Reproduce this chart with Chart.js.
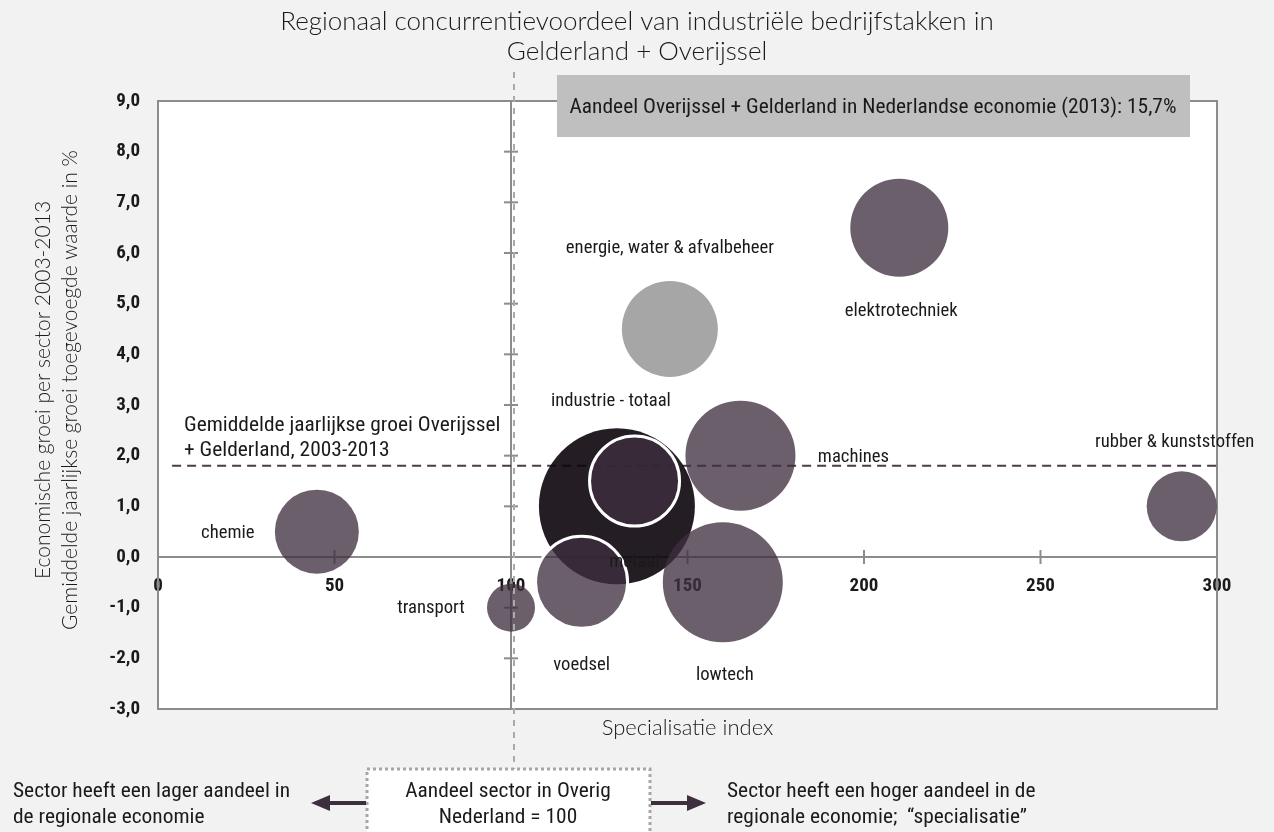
<!DOCTYPE html>
<html lang="nl">
<head>
<meta charset="utf-8">
<title>Regionaal concurrentievoordeel</title>
<script src="https://cdn.jsdelivr.net/npm/chart.js@4.4.1/dist/chart.umd.min.js"></script>
<style>
  html, body { margin: 0; padding: 0; background: #f2f2f2; }
  #wrap { width: 1274px; height: 832px; position: relative; }
</style>
</head>
<body>
<div id="wrap"><canvas id="chart" width="1274" height="832"></canvas></div>
<script>
// ---- data ----
const sectors    = ['industrie - totaal', 'metaal', 'voedsel', 'lowtech', 'machines', 'transport',
                    'chemie', 'energie, water & afvalbeheer', 'elektrotechniek', 'rubber & kunststoffen'];
const specIndex  = [130, 135, 120, 160, 165, 100, 45, 145, 210, 290];   // x: specialisatie index
const growth     = [1.0, 1.5, -0.5, -0.5, 2.0, -1.0, 0.5, 4.5, 6.5, 1.0]; // y: groei in %
const bubbleSize = [78, 45, 46, 60, 55, 24, 42, 48, 49, 35];             // bubble radius
const avgGrowth  = 1.8;          // gemiddelde jaarlijkse groei regio
const avgFrom    = 4;            // dashed average line starts here (x)
const xMin = 0, xMax = 300, xStep = 50;
const yMin = -3, yMax = 9, yStep = 1;
const baseIndex  = 100;          // Overig Nederland = 100

// label placement around each bubble (px offset from bubble centre)
const labelOffset = [[-6, -105], [0, 81], [0, 83], [2, 93], [113, 2], [-80, 1],
                     [-89, 2], [0, -81], [2, 84], [-7, -64]];

// ---- styling ----
const COND   = '"Roboto Condensed", "DejaVu Sans Condensed", Roboto, sans-serif';
const LIGHT  = 'Lato, "Open Sans", sans-serif';
const INK    = '#1a1a1a';
const AXIS   = '#8c8c8c';
const fillFor = name => name === 'industrie - totaal' ? 'rgba(12,4,12,0.9)'
                      : name.startsWith('energie') ? '#a6a6a6'
                      : 'rgba(62,47,62,0.77)';
const ringed = ['metaal', 'voedsel'];

const fmt = v => v.toFixed(1).replace('.', ',');

// horizontally scaled text, to follow the condensed face of the reference
function squeeze(ctx, text, x, y, sx) {
  ctx.save();
  ctx.translate(x, y);
  ctx.scale(sx, 1);
  ctx.fillText(text, 0, 0);
  ctx.restore();
}
// factor so that a sample string gets its width in the reference
function fitFactor(ctx, font, sample, width) {
  ctx.save(); ctx.font = font;
  const f = width / ctx.measureText(sample).width;
  ctx.restore();
  return Math.max(0.8, Math.min(1.15, f));
}

/** ------------------------
 *  Decorations plugin
 ------------------------ */
const decor = {
  id: 'decor',
  beforeDraw(chart) {
    const {ctx, chartArea: a} = chart;
    ctx.save();
    ctx.fillStyle = '#f2f2f2';
    ctx.fillRect(0, 0, chart.width, chart.height);
    ctx.fillStyle = '#ffffff';
    ctx.fillRect(a.left, a.top, a.right - a.left, a.bottom - a.top);
    ctx.restore();
  },
  beforeDatasetsDraw(chart) {
    const {ctx, chartArea: a, scales: {x, y}} = chart;
    ctx.save();
    ctx.strokeStyle = AXIS;
    ctx.lineWidth = 2;
    // vertical axis at index 100 with crossing ticks
    const vx = x.getPixelForValue(baseIndex);
    ctx.beginPath(); ctx.moveTo(vx, a.top); ctx.lineTo(vx, a.bottom); ctx.stroke();
    y.ticks.forEach(t => {
      if (t.value === yMin || t.value === yMax || t.value === 0) return;
      const py = y.getPixelForValue(t.value);
      ctx.beginPath(); ctx.moveTo(vx - 7, py); ctx.lineTo(vx + 7, py); ctx.stroke();
    });
    // crossing ticks on horizontal axis
    const y0 = y.getPixelForValue(0);
    x.ticks.forEach(t => {
      if (t.value === xMin || t.value === baseIndex) return;
      const px = x.getPixelForValue(t.value);
      ctx.beginPath(); ctx.moveTo(px, y0 - 7); ctx.lineTo(px, y0 + 7); ctx.stroke();
    });
    // plot frame
    ctx.strokeRect(a.left, a.top, a.right - a.left, a.bottom - a.top);
    ctx.restore();
  },
  afterDatasetsDraw(chart) {
    const {ctx, chartArea: a, scales: {x, y}} = chart;
    ctx.save();
    ctx.fillStyle = INK;
    ctx.textAlign = 'center';
    ctx.textBaseline = 'middle';

    // bubble labels
    const labelFont = '19px ' + COND;
    const kLabel = fitFactor(ctx, labelFont, 'energie, water & afvalbeheer', 208);
    ctx.font = labelFont;
    sectors.forEach((s, i) => {
      const px = x.getPixelForValue(specIndex[i]) + labelOffset[i][0];
      const py = y.getPixelForValue(growth[i]) + labelOffset[i][1];
      squeeze(ctx, s, px, py, kLabel);
    });

    const textFont = '20px ' + COND;
    const kText = fitFactor(ctx, textFont, 'Sector heeft een lager aandeel in', 277);
    ctx.font = textFont;

    // average growth label
    ctx.textAlign = 'left';
    const ay = y.getPixelForValue(avgGrowth);
    squeeze(ctx, 'Gemiddelde jaarlijkse groei Overijssel', a.left + 26, ay - 40, kText);
    squeeze(ctx, '+ Gelderland, 2003-2013', a.left + 26, ay - 15, kText);

    // light dashed reference line at index 100
    const vx = x.getPixelForValue(baseIndex) + 3;
    ctx.strokeStyle = '#aaaaaa';
    ctx.lineWidth = 2;
    ctx.setLineDash([6, 6]);
    ctx.beginPath(); ctx.moveTo(vx, 72); ctx.lineTo(vx, 769); ctx.stroke();
    ctx.setLineDash([]);

    // share box
    ctx.fillStyle = '#bfbfbf';
    ctx.fillRect(557, 75, 633, 62);
    ctx.fillStyle = INK;
    ctx.textAlign = 'center';
    squeeze(ctx, 'Aandeel Overijssel + Gelderland in Nederlandse economie (2013): 15,7%', 873, 108, kText);

    // titles
    ctx.font = '300 26px ' + LIGHT;
    ctx.fillText('Regionaal concurrentievoordeel van industriële bedrijfstakken in', 637, 22);
    ctx.fillText('Gelderland + Overijssel', 637, 52);
    ctx.font = '300 22px ' + LIGHT;
    ctx.fillText('Specialisatie index', (a.left + a.right) / 2, 728);
    ctx.font = '300 21px ' + LIGHT;
    ctx.save();
    ctx.translate(43, 390);
    ctx.rotate(-Math.PI / 2);
    ctx.fillText('Economische groei per sector 2003-2013', 0, 0);
    ctx.fillText('Gemiddelde jaarlijkse groei toegevoegde waarde in %', 0, 27);
    ctx.restore();

    // bottom legend box + arrows
    ctx.fillStyle = '#ffffff';
    ctx.fillRect(367, 769, 283, 80);
    ctx.strokeStyle = '#a6a6a6';
    ctx.lineWidth = 3;
    ctx.setLineDash([3, 3]);
    ctx.strokeRect(367, 769, 283, 80);
    ctx.setLineDash([]);
    ctx.fillStyle = INK;
    ctx.font = textFont;
    squeeze(ctx, 'Aandeel sector in Overig', 508, 792, kText);
    squeeze(ctx, 'Nederland = 100', 508, 818, kText);

    ctx.strokeStyle = '#3e2f3e';
    ctx.fillStyle = '#3e2f3e';
    ctx.lineWidth = 4;
    ctx.beginPath(); ctx.moveTo(366, 803); ctx.lineTo(325, 803); ctx.stroke();
    ctx.beginPath(); ctx.moveTo(311, 803); ctx.lineTo(330, 795); ctx.lineTo(330, 811); ctx.closePath(); ctx.fill();
    ctx.beginPath(); ctx.moveTo(651, 803); ctx.lineTo(692, 803); ctx.stroke();
    ctx.beginPath(); ctx.moveTo(706, 803); ctx.lineTo(687, 795); ctx.lineTo(687, 811); ctx.closePath(); ctx.fill();

    ctx.fillStyle = INK;
    ctx.textAlign = 'left';
    squeeze(ctx, 'Sector heeft een lager aandeel in', 13, 792, kText);
    squeeze(ctx, 'de regionale economie', 13, 818, kText);
    squeeze(ctx, 'Sector heeft een hoger aandeel in de', 727, 792, kText);
    squeeze(ctx, 'regionale economie;  \u201Cspecialisatie\u201D', 727, 818, kText);
    ctx.restore();
  }
};

/** ------------------------
 *  Chart
 ------------------------ */
const ctx = document.getElementById('chart').getContext('2d');
new Chart(ctx, {
  data: {
    datasets: [
      {
        type: 'bubble',
        label: 'sectoren',
        order: 1,
        data: sectors.map((s, i) => ({x: specIndex[i], y: growth[i], r: bubbleSize[i]})),
        backgroundColor: sectors.map(fillFor),
        borderColor: sectors.map(s => ringed.includes(s) ? '#ffffff' : 'rgba(0,0,0,0)'),
        borderWidth: sectors.map(s => ringed.includes(s) ? 3 : 0),
        clip: false
      },
      {
        type: 'line',
        label: 'gemiddelde',
        order: 2,
        data: [{x: avgFrom, y: avgGrowth}, {x: xMax, y: avgGrowth}],
        borderColor: '#4a3a4a',
        borderWidth: 2,
        borderDash: [9, 6],
        pointRadius: 0,
        fill: false
      }
    ]
  },
  options: {
    responsive: false,
    animation: false,
    events: [],
    layout: {autoPadding: false, padding: {left: 0, top: 101, right: 57, bottom: 123}},
    plugins: {legend: {display: false}, tooltip: {enabled: false}},
    scales: {
      x: {
        type: 'linear',
        position: {y: 0},
        min: xMin, max: xMax,
        afterFit: s => { s.paddingLeft = 0; s.paddingRight = 0; },
        ticks: {stepSize: xStep, color: INK, padding: 18, font: {family: COND, size: 19, weight: 'bold'}},
        grid: {display: false, drawTicks: false},
        border: {display: true, color: AXIS, width: 2}
      },
      y: {
        type: 'linear',
        position: 'left',
        min: yMin, max: yMax,
        afterFit: s => { s.width = 158; },
        ticks: {stepSize: yStep, color: INK, padding: 18, callback: v => fmt(v),
                font: {family: COND, size: 19, weight: 'bold'}},
        grid: {display: false, drawTicks: false},
        border: {display: false}
      }
    }
  },
  plugins: [decor]
});
</script>
</body>
</html>
